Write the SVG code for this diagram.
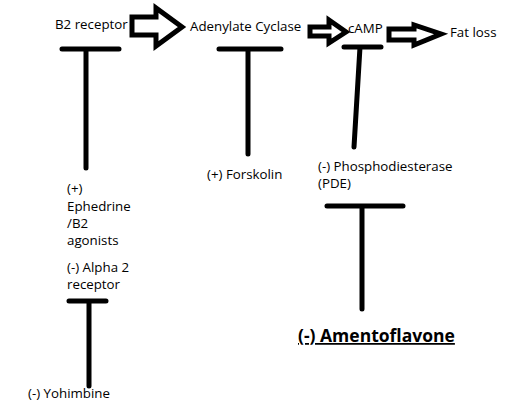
<svg xmlns="http://www.w3.org/2000/svg" width="530" height="409" viewBox="0 0 530 409">
<style>
.t{font-family:"Open Sans","Liberation Sans",sans-serif;font-size:13.3px;fill:#000}
.b{font-family:"Open Sans","Liberation Sans",sans-serif;font-size:17.5px;font-weight:bold;fill:#000;text-decoration:underline}
.ar{fill:#fff;stroke:#000;stroke-width:5;stroke-linejoin:miter}
.bar{stroke:#000;stroke-width:5;stroke-linecap:round;fill:none}
</style>
<rect width="530" height="409" fill="#fff"/>
<g id="b2-receptor"><text class="t" x="55" y="29">B2 receptor</text></g>
<g id="adenylate-cyclase"><text class="t" x="190" y="31">Adenylate Cyclase</text></g>
<g id="camp"><text class="t" x="348" y="33">cAMP</text></g>
<g id="fat-loss"><text class="t" x="450" y="37">Fat loss</text></g>
<g id="ephedrine"><text class="t" x="67" y="193">(+)</text><text class="t" x="67" y="211">Ephedrine</text><text class="t" x="67" y="228">/B2</text><text class="t" x="67" y="245">agonists</text></g>
<g id="alpha2"><text class="t" x="67" y="272">(-) Alpha 2</text><text class="t" x="67" y="289">receptor</text></g>
<g id="yohimbine"><text class="t" x="28" y="398">(-) Yohimbine</text></g>
<g id="forskolin"><text class="t" x="207" y="179">(+) Forskolin</text></g>
<g id="pde"><text class="t" x="318" y="171">(-) Phosphodiesterase</text><text class="t" x="318" y="188">(PDE)</text></g>
<g id="amentoflavone"><text class="b" x="298" y="342">(-) Amentoflavone</text></g>
<g id="connectors">
<polygon class="ar" points="132,17 156,17 156,8 182,27 156,46 156,35 132,35"/>
<polygon class="ar" points="310,27 329,27 329,20 346,32 329,43 329,36 310,36"/>
<polygon class="ar" points="389,29 414,29 414,25 441,34 414,45 414,40 389,40"/>
<path class="bar" d="M62,49H119M86,49V168"/>
<path class="bar" d="M219,49H281M248,49V154"/>
<path class="bar" d="M344,47H381M360,47L354,147"/>
<path class="bar" d="M327,206H403M362,206V309"/>
<path class="bar" d="M69,301H106M89,301V386"/>
</g>
</svg>
